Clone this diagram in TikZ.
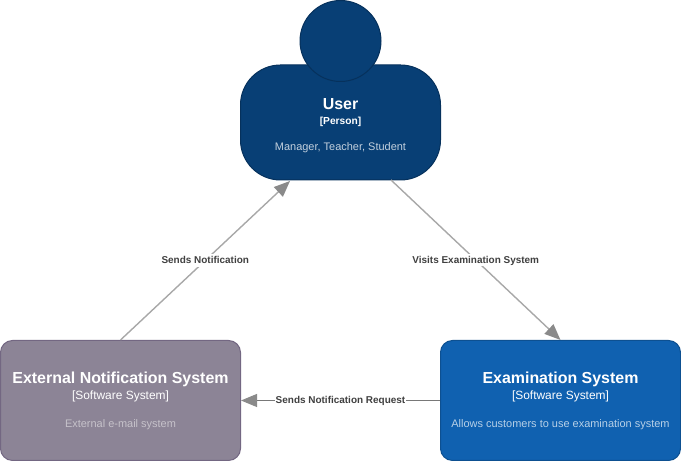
\documentclass[tikz,border=0pt]{standalone}
\usepackage{fontspec}
\setmainfont{Liberation Sans}
\usetikzlibrary{arrows.meta}
\definecolor{userfill}{HTML}{083F75}
\definecolor{userline}{HTML}{06315C}
\definecolor{extfill}{HTML}{8C8496}
\definecolor{extline}{HTML}{736782}
\definecolor{examfill}{HTML}{1061B0}
\definecolor{examline}{HTML}{0D5091}
\definecolor{tipgray}{HTML}{8A8A8A}
\definecolor{linkgray}{HTML}{A8A8A8}
\definecolor{flatgray}{HTML}{787878}
\definecolor{labelgray}{HTML}{404040}
\newcommand{\titlefont}{\fontsize{9.07}{9.07}\selectfont\bfseries}
\newcommand{\subfont}{\fontsize{6.8}{9.07}\selectfont}
\newcommand{\descfont}{\fontsize{6.24}{9.07}\selectfont}
\newcommand{\labelfont}{\fontsize{5.67}{9.07}\selectfont\bfseries}

\begin{document}
\begin{tikzpicture}[
  box/.style={rectangle,draw,line width=0.02cm,rounded corners=0.24cm,text=white,align=center,minimum width=4.80cm,minimum height=2.40cm,inner sep=0pt,font=\subfont},
  userbody/.style={box,fill=userfill,draw=userline,rounded corners=0.80cm,minimum width=4.00cm,minimum height=2.30cm},
  userhead/.style={circle,fill=userfill,draw=userline,line width=0.02cm,minimum size=1.62cm,inner sep=0pt},
  extbox/.style={box,fill=extfill,draw=extline},
  exambox/.style={box,fill=examfill,draw=examline},
  link/.style={draw=linkgray,line width=0.028cm,-{Triangle[length=0.32cm,width=0.26cm,color=tipgray]}},
  flatlink/.style={link,draw=flatgray,line width=0.02cm},
  linklabel/.style={fill=white,text=labelgray,inner sep=0.5pt,text height=5pt,text depth=1.2pt,font=\labelfont}
]
  \useasboundingbox (0,0) rectangle (13.62,9.22);
  \node[userbody] (user) at (6.81,6.77) {\rule{0pt}{9.4pt}{\titlefont User}\\[-0.5pt]{\fontsize{5.8}{9.07}\selectfont\bfseries {[Person]}}\\[5.6pt]{\descfont\color{white!75!userfill}Manager, Teacher, Student}};
  \node[userhead] (head) at (6.81,8.40) {};
  \node[extbox] (ext) at (2.41,1.21) {\rule{0pt}{7.4pt}{\titlefont External Notification System}\\{[Software System]}\\[7pt]{\descfont\color{white!50!extfill}External e-mail system}};
  \node[exambox] (exam) at (11.21,1.21) {\rule{0pt}{7.4pt}{\titlefont Examination System}\\{[Software System]}\\[7pt]{\descfont\color{white!70!examfill}Allows customers to use examination system}};
  \coordinate (userin) at (5.80,5.60);
  \coordinate (userout) at (7.82,5.62);
  \draw[link] (ext.north) -- node[linklabel] (notify) {Sends Notification} (userin);
  \draw[link] (userout) -- node[linklabel] (visit) {Visits Examination System} (exam.north);
  \draw[flatlink] (exam.west) -- node[linklabel] (request) {Sends Notification Request} (ext.east);
\end{tikzpicture}
\end{document}
